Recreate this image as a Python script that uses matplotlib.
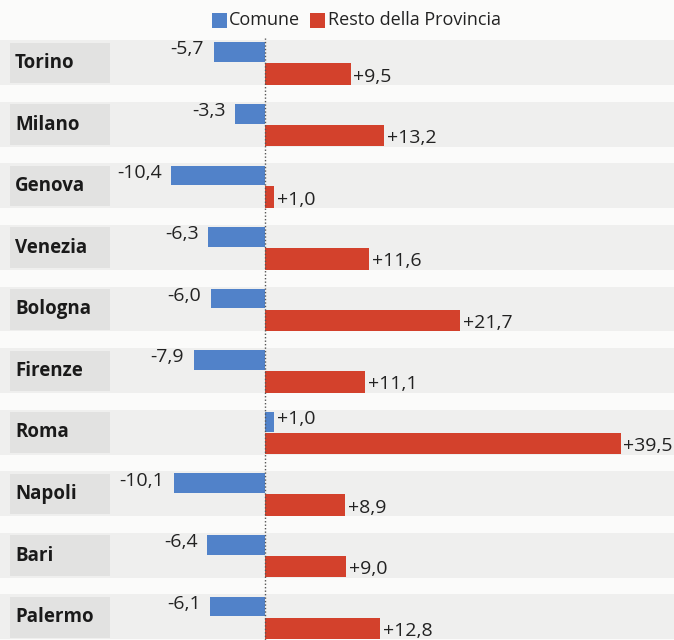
import matplotlib.pyplot as plt
import matplotlib.transforms as mtransforms
from matplotlib.patches import Rectangle
import numpy as np

plt.rcParams['font.family'] = ['Open Sans', 'DejaVu Sans']

# dati
citta = ['Torino', 'Milano', 'Genova', 'Venezia', 'Bologna',
         'Firenze', 'Roma', 'Napoli', 'Bari', 'Palermo']
comune = [-5.7, -3.3, -10.4, -6.3, -6.0, -7.9, 1.0, -10.1, -6.4, -6.1]
provincia = [9.5, 13.2, 1.0, 11.6, 21.7, 11.1, 39.5, 8.9, 9.0, 12.8]

blu = '#5182c9'
rosso = '#d3412c'

def fmt(v):
    return ('%+.1f' % v).replace('.', ',')

fig = plt.figure(figsize=(6.74, 6.4), dpi=100)
fig.patch.set_facecolor('#fbfbfa')
ax = fig.add_axes([0, 0, 1, 1])
ax.set_facecolor('#fbfbfa')
ax.set_xlim(-265 / 9.0, (674 - 265) / 9.0)
ax.set_ylim(9.37, -1.023)
ax.axis('off')

y = np.arange(len(citta))
trans = mtransforms.blended_transform_factory(ax.transAxes, ax.transData)

# fasce grigie di sfondo
for i in y:
    ax.add_patch(Rectangle((0, i - 0.37), 1, 0.73, transform=trans,
                           facecolor='#efefee', edgecolor='none', zorder=0))
    ax.add_patch(Rectangle((10 / 674, i - 0.33), 100 / 674, 0.66, transform=trans,
                           facecolor='#e2e2e1', edgecolor='none', zorder=0.5))
    ax.text(15 / 674, i, citta[i], transform=trans, fontsize=13.5,
            fontweight='bold', va='center', ha='left', color='#1a1a1a', zorder=3)

# barre
ax.barh(y - 0.175, comune, height=0.32, color=blu, zorder=2)
ax.barh(y + 0.18, provincia, height=0.35, color=rosso, zorder=2)

# linea dello zero
ax.axvline(0, ymin=0.0, ymax=0.94, color='#555555', lw=1, ls=(0, (1, 1.5)), zorder=2.5)

# etichette valori
for i in y:
    v = comune[i]
    if v < 0:
        ax.annotate(fmt(v), (v, i - 0.22), xytext=(-7, 0), textcoords='offset points',
                    ha='right', va='center', fontsize=14, color='#222222')
    else:
        ax.annotate(fmt(v), (v, i - 0.22), xytext=(2, 0), textcoords='offset points',
                    ha='left', va='center', fontsize=14, color='#222222')
    p = provincia[i]
    ax.annotate(fmt(p), (p, i + 0.22), xytext=(2, 0), textcoords='offset points',
                ha='left', va='center', fontsize=14, color='#222222')

# legenda
fig.patches.append(Rectangle((212 / 674, 1 - 28 / 640), 15 / 674, 15 / 640,
                             transform=fig.transFigure, facecolor=blu, edgecolor='none'))
fig.text(229 / 674, 1 - 20 / 640, 'Comune', fontsize=13, va='center', ha='left', color='#222222')
fig.patches.append(Rectangle((310 / 674, 1 - 28 / 640), 15 / 674, 15 / 640,
                             transform=fig.transFigure, facecolor=rosso, edgecolor='none'))
fig.text(328 / 674, 1 - 20 / 640, 'Resto della Provincia', fontsize=13, va='center',
         ha='left', color='#222222')

fig.savefig('out.png', dpi=100, facecolor=fig.get_facecolor())
